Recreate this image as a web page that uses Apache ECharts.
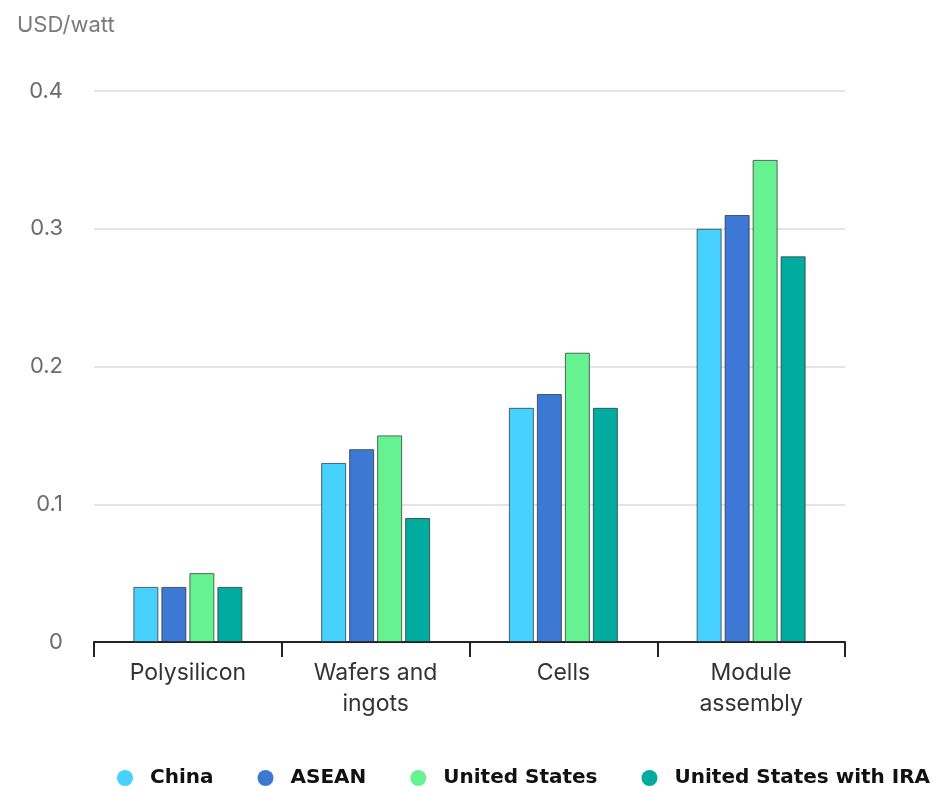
<!DOCTYPE html>
<html>
<head>
<meta charset="utf-8">
<script src="https://cdn.jsdelivr.net/npm/echarts@6/dist/echarts.min.js"></script>
<style>
  html, body { margin: 0; padding: 0; background: #fff; }
  #chart { width: 940px; height: 786px; }
</style>
</head>
<body>
<div id="chart"></div>
<script>
// Manufacturing cost by supply-chain step, USD per watt
const categories = ['Polysilicon', 'Wafers and\ningots', 'Cells', 'Module\nassembly'];
const seriesNames = ['China', 'ASEAN', 'United States', 'United States with IRA'];
const china = [0.04, 0.13, 0.17, 0.30];
const asean = [0.04, 0.14, 0.18, 0.31];
const unitedStates = [0.05, 0.15, 0.21, 0.35];
const unitedStatesIra = [0.04, 0.09, 0.17, 0.28];
const yTicks = [0, 0.1, 0.2, 0.3, 0.4];
const colors = ['#47D1FF', '#3D78D4', '#66F290', '#00AC9F'];

const values = [china, asean, unitedStates, unitedStatesIra];
const chart = echarts.init(document.getElementById('chart'), null, { renderer: 'canvas' });

chart.setOption({
  animation: false,
  textStyle: { fontFamily: 'Inter, "Noto Sans", sans-serif' },
  grid: { left: 94, right: 95, top: 91, bottom: 144 },
  title: {
    text: 'USD/watt',
    left: 12, top: 9,
    textStyle: { fontSize: 22, fontWeight: 'normal', color: '#7a7a7a', fontFamily: 'Inter, sans-serif' }
  },
  legend: {
    top: 763,
    left: 112,
    icon: 'circle',
    itemWidth: 16, itemHeight: 16,
    itemGap: 44,
    itemStyle: { borderWidth: 0 },
    textStyle: { fontSize: 20, fontWeight: 'bold', color: '#111', fontFamily: '"DejaVu Sans", sans-serif', padding: [0, 0, 0, 12] },
    data: seriesNames
  },
  xAxis: {
    type: 'category',
    data: categories,
    axisLine: { lineStyle: { color: '#222', width: 2 } },
    axisTick: { show: true, length: 15, lineStyle: { color: '#222', width: 2 } },
    axisLabel: { fontSize: 23, color: '#333', lineHeight: 31, margin: 16 }
  },
  yAxis: {
    type: 'value',
    min: 0, max: 0.4, interval: 0.1,
    axisLine: { show: false },
    axisTick: { show: false },
    splitLine: { lineStyle: { color: '#e4e4e4', width: 2 } },
    axisLabel: {
      fontSize: 22, color: '#6b6b6b', margin: 31,
      formatter: v => yTicks.includes(+v.toFixed(2)) ? String(+v.toFixed(2)) : ''
    }
  },
  series: seriesNames.map((name, i) => ({
    name,
    type: 'bar',
    data: values[i],
    barWidth: 25,
    barGap: '12%',
    itemStyle: { color: colors[i], borderColor: 'rgba(40,40,40,0.7)', borderWidth: 1 }
  }))
});
</script>
</body>
</html>
